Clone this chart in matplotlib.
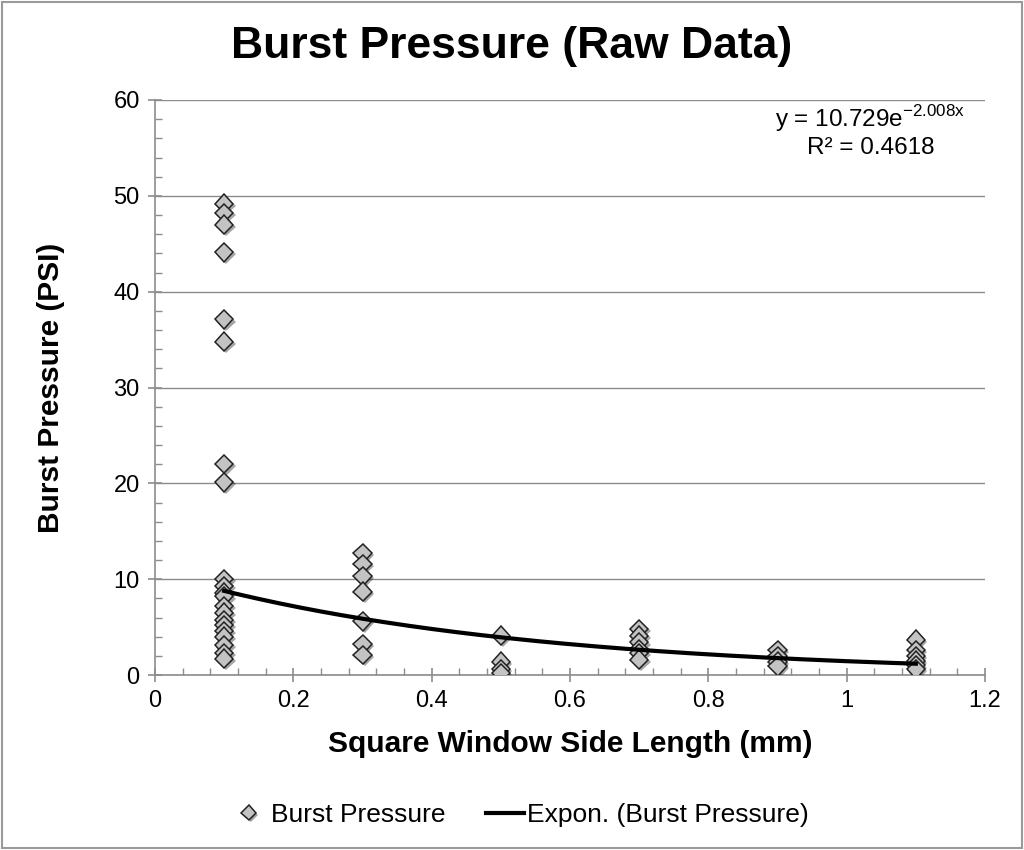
import matplotlib
matplotlib.use("Agg")
import matplotlib.pyplot as plt
import matplotlib.patheffects as pe
from matplotlib.patches import Rectangle
from matplotlib.ticker import MultipleLocator
import numpy as np

plt.rcParams['font.family'] = ['Liberation Sans', 'DejaVu Sans']

# raw data: side length (mm) -> burst pressures (PSI)
side_01 = [49.2, 48.2, 47.0, 44.1, 37.1, 34.8, 22.0, 20.1,
           10.0, 9.3, 8.6, 8.2, 7.2, 6.5, 5.7, 5.2, 4.6, 4.0, 3.1, 2.3, 1.7]
side_03 = [12.7, 11.6, 10.3, 8.7, 5.6, 3.2, 2.1]
side_05 = [4.1, 1.4, 0.6, 0.2]
side_07 = [4.8, 4.1, 3.4, 2.7, 2.3, 1.6]
side_09 = [2.6, 2.0, 1.4, 0.9]
side_11 = [3.7, 2.6, 2.0, 1.5, 1.0, 0.6]

groups = {0.1: side_01, 0.3: side_03, 0.5: side_05,
          0.7: side_07, 0.9: side_09, 1.1: side_11}

# fitted exponential trendline
fit_a = 10.729
fit_b = -2.008
r_squared = 0.4618

xs = []
ys = []
for k, vals in groups.items():
    xs += [k] * len(vals)
    ys += vals

fig = plt.figure(figsize=(10.24, 8.5), dpi=100)
ax = fig.add_axes([155 / 1024, 175 / 850, 830 / 1024, 575 / 850])

grey = '#8c8c8c'
ax.yaxis.grid(True, color=grey, linewidth=1)
ax.set_axisbelow(True)

shadow = [pe.SimplePatchShadow(offset=(1.5, -1.5), shadow_rgbFace='k', alpha=0.35), pe.Normal()]
ax.plot(xs, ys, linestyle='none', marker='D', markersize=9.5,
        markerfacecolor='#c3c3c3', markeredgecolor='#222222', markeredgewidth=1.1,
        path_effects=shadow, label='Burst Pressure', zorder=3)

tx = np.linspace(0.1, 1.1, 200)
ax.plot(tx, fit_a * np.exp(fit_b * tx), color='black', linewidth=3,
        label='Expon. (Burst Pressure)', zorder=4)

ax.set_xlim(0, 1.2)
ax.set_ylim(0, 60)
ax.xaxis.set_major_locator(MultipleLocator(0.2))
ax.xaxis.set_minor_locator(MultipleLocator(0.04))
ax.yaxis.set_major_locator(MultipleLocator(10))
ax.yaxis.set_minor_locator(MultipleLocator(2))
ax.set_xticks([0, 0.2, 0.4, 0.6, 0.8, 1.0, 1.2])
ax.set_xticklabels(['0', '0.2', '0.4', '0.6', '0.8', '1', '1.2'])

for s in ['top', 'right']:
    ax.spines[s].set_visible(False)
for s in ['left', 'bottom']:
    ax.spines[s].set_color(grey)
    ax.spines[s].set_linewidth(1.2)

ax.tick_params(which='major', direction='inout', length=10, width=1.2, color=grey,
               labelsize=17, pad=6)
ax.tick_params(which='minor', direction='in', length=5, width=1, color=grey)

ax.set_xlabel('Square Window Side Length (mm)', fontsize=21.5, fontweight='bold', labelpad=13)
ax.set_ylabel('Burst Pressure (PSI)', fontsize=21.5, fontweight='bold', labelpad=35)
fig.text(0.5, 0.945, 'Burst Pressure (Raw Data)', ha='center', va='center',
         fontsize=32, fontweight='bold')

ax.text(0.862, 0.968, 'y = 10.729e$^{\\mathregular{-2.008x}}$', transform=ax.transAxes,
        ha='center', va='center', fontsize=17.5)
ax.text(0.862, 0.916, 'R² = %.4f' % r_squared, transform=ax.transAxes,
        ha='center', va='center', fontsize=17.5)

fig.legend(loc='center', bbox_to_anchor=(0.507, 0.041), ncol=2, frameon=False,
           fontsize=19, handlelength=1.45, handletextpad=0.1, columnspacing=1.55,
           markerscale=0.8)

fig.patches.append(Rectangle((0.002, 0.002), 0.996, 0.996, transform=fig.transFigure,
                             fill=False, edgecolor='#9a9a9a', linewidth=1.5))

fig.savefig('out.png', dpi=100)
